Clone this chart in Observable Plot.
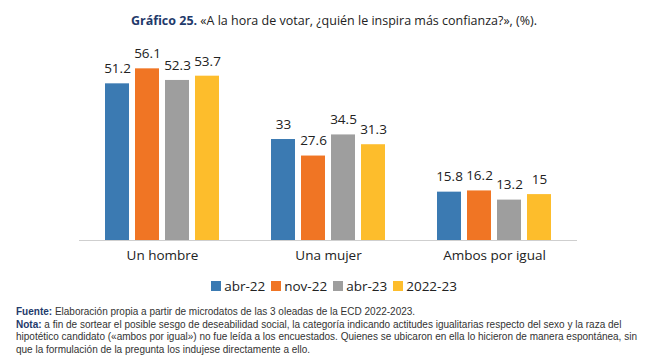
<!DOCTYPE html>
<html><head><meta charset="utf-8">
<script src="https://cdn.jsdelivr.net/npm/d3@7"></script>
<script src="https://cdn.jsdelivr.net/npm/@observablehq/plot@0.6"></script>
<style>
body{margin:0;background:#fff;font-family:"Open Sans",sans-serif;color:#222;width:668px;height:362px;position:relative;overflow:hidden}
#title{position:absolute;top:12px;left:0;width:668px;text-align:center;font-size:12.5px;color:#222}
#title b{color:#1f3a6b}
#chart{position:absolute;top:35px;left:0}
#legend{position:absolute;top:277px;left:0;width:668px;text-align:center;font-size:13.5px;color:#222}
#legend span{margin:0 3px;white-space:nowrap}
#legend i{display:inline-block;width:10px;height:10px;margin-right:3px;vertical-align:-0px}
#foot{position:absolute;top:306px;left:16px;width:640px;font-family:"Liberation Sans",sans-serif;font-size:10px;line-height:12.5px;color:#333;white-space:nowrap}
#foot b{color:#1f3a6b}
</style></head><body>
<div id="title"><b>Gráfico 25.</b> «A la hora de votar, ¿quién le inspira más confianza?», (%).</div>
<div id="chart"></div>
<div id="legend"></div>
<div id="foot"><div><b>Fuente:</b> Elaboración propia a partir de microdatos de las 3 oleadas de la ECD 2022-2023.</div><div><b>Nota:</b> a fin de sortear el posible sesgo de deseabilidad social, la categoría indicando actitudes igualitarias respecto del sexo y la raza del</div><div>hipotético candidato («ambos por igual») no fue leída a los encuestados. Quienes se ubicaron en ella lo hicieron de manera espontánea, sin</div><div>que la formulación de la pregunta los indujese directamente a ello.</div></div>
<script>
const categories = ["Un hombre", "Una mujer", "Ambos por igual"];
const seriesNames = ["abr-22", "nov-22", "abr-23", "2022-23"];
const seriesColors = ["#3b7ab2", "#f07524", "#9e9e9e", "#fdbd2c"];
const abr22 = [51.2, 33, 15.8];
const nov22 = [56.1, 27.6, 16.2];
const abr23 = [52.3, 34.5, 13.2];
const s2022_23 = [53.7, 31.3, 15];
const labels = [["51.2","33","15.8"],["56.1","27.6","16.2"],["52.3","34.5","13.2"],["53.7","31.3","15"]];

const allSeries = [abr22, nov22, abr23, s2022_23];
const data = [];
categories.forEach((c, i) => {
  seriesNames.forEach((s, j) => {
    data.push({cat: c, series: s, value: allSeries[j][i], label: labels[j][i]});
  });
});

const chart = Plot.plot({
  width: 668,
  height: 235,
  marginLeft: 78,
  marginRight: 90,
  marginTop: 21.4,
  marginBottom: 30,
  style: {fontFamily: "'Open Sans', sans-serif", fontSize: "13px", color: "#222"},
  fx: {domain: categories, padding: 0, label: null, axis: "bottom", tickSize: 0, tickPadding: 10},
  x: {domain: seriesNames, paddingInner: 0.2, paddingOuter: 0.85, axis: null},
  y: {domain: [0, 60], axis: null},
  color: {domain: seriesNames, range: seriesColors},
  marks: [
    Plot.barY(data, {fx: "cat", x: "series", y: "value", fill: "series"}),
    Plot.text(data, {fx: "cat", x: "series", y: "value", text: "label", dy: -15, fill: "#222", fontSize: 13.5}),
    Plot.ruleY([0], {stroke: "#cfcfcf", strokeWidth: 1})
  ]
});
chart.querySelectorAll('[aria-label="fx-axis tick label"] text').forEach(t => t.setAttribute("font-size", "13.5"));
document.getElementById("chart").appendChild(chart);

const lg = document.getElementById("legend");
seriesNames.forEach((s, j) => {
  const sp = document.createElement("span");
  sp.innerHTML = `<i style="background:${seriesColors[j]}"></i>${s}`;
  lg.appendChild(sp);
});
</script>
</body></html>
